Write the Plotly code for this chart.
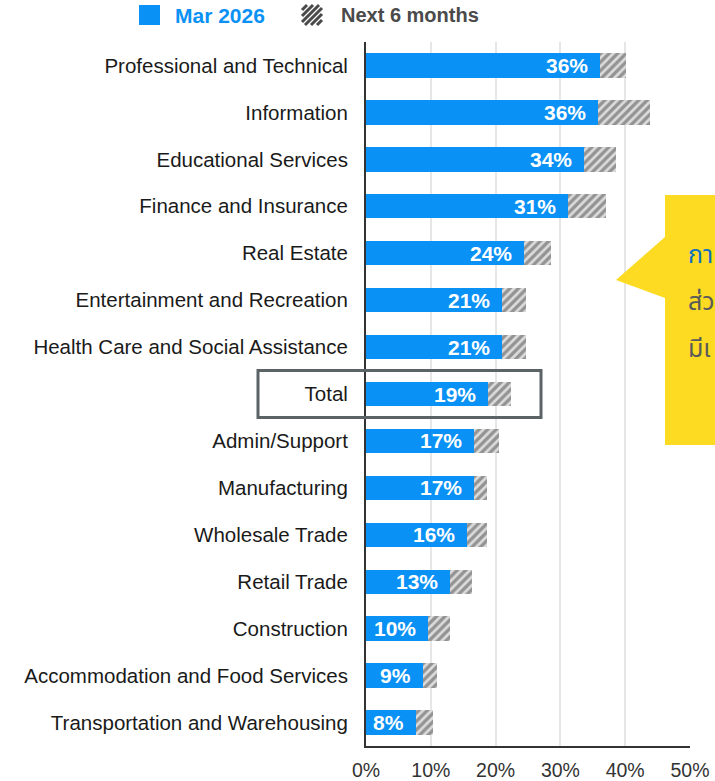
import plotly.graph_objects as go

# AI use rate by industry (share of firms)
industries = [
    "Professional and Technical", "Information", "Educational Services",
    "Finance and Insurance", "Real Estate", "Entertainment and Recreation",
    "Health Care and Social Assistance", "Total", "Admin/Support",
    "Manufacturing", "Wholesale Trade", "Retail Trade", "Construction",
    "Accommodation and Food Services", "Transportation and Warehousing",
]
mar_2026 = [36.1, 35.8, 33.6, 31.1, 24.4, 21.0, 21.0, 18.8, 16.7, 16.7, 15.6, 13.0, 9.6, 8.8, 7.7]
next_6m = [4.0, 8.0, 5.0, 5.9, 4.1, 3.7, 3.7, 3.6, 3.8, 2.0, 3.1, 3.4, 3.3, 2.2, 2.7]
bar_labels = ["36%", "36%", "34%", "31%", "24%", "21%", "21%", "19%",
              "17%", "17%", "16%", "13%", "10%", "9%", "8%"]
x_ticks = [0, 10, 20, 30, 40, 50]
x_tick_text = ["0%", "10%", "20%", "30%", "40%", "50%"]
# callout is cropped by the right edge in the source picture
callout_lines = ["กา", "ส่ว", "มีเ"]

BLUE = "#0a91f5"
YELLOW = "#fddb22"
HATCH = "#4a4a4a"
FONT = "Liberation Sans, Arial, sans-serif"

# page geometry (pixels) -> paper coords
W, H = 715, 781
L, R, T, B = 366, 690, 42, 746


def px(x):
    return (x - L) / (R - L)


def py(y):
    return (B - y) / (B - T)


fig = go.Figure()
fig.add_trace(go.Bar(
    y=industries, x=mar_2026, orientation="h", name="Mar 2026",
    marker=dict(color=BLUE, line=dict(width=0)), showlegend=False,
))
fig.add_trace(go.Bar(
    y=industries, x=next_6m, orientation="h", name="Next 6 months",
    marker=dict(color="#dcdcdc", line=dict(width=0),
                pattern=dict(shape="/", fgcolor=HATCH, bgcolor="#dcdcdc",
                             size=6, solidity=0.55)),
    showlegend=False,
))

annotations = []
for cat, val, lab in zip(industries, mar_2026, bar_labels):
    annotations.append(dict(
        x=val, y=cat, xref="x", yref="y", text=f"<b>{lab}</b>", showarrow=False,
        xanchor="right", yanchor="middle", xshift=-10,
        font=dict(family=FONT, size=21, color="white"),
    ))

# legend drawn by hand
annotations.append(dict(
    x=px(173), y=py(15), xref="paper", yref="paper", text="<b>Mar 2026</b>",
    showarrow=False, xanchor="left", yanchor="middle",
    font=dict(family=FONT, size=21, color=BLUE),
))
annotations.append(dict(
    x=px(339), y=py(15), xref="paper", yref="paper", text="<b>Next 6 months</b>",
    showarrow=False, xanchor="left", yanchor="middle",
    font=dict(family=FONT, size=20, color="#4a4a4a"),
))

# callout text
for i, (line, col) in enumerate(zip(callout_lines, ["#0a6fc4", "#5a5a5a", "#5a5a5a"])):
    annotations.append(dict(
        x=px(686), y=py(255 + i * 47), xref="paper", yref="paper", text=line,
        showarrow=False, xanchor="left", yanchor="middle",
        font=dict(family="Noto Sans Thai, Noto Sans, sans-serif", size=25, color=col),
    ))

shapes = []
# legend swatches
shapes.append(dict(type="rect", xref="paper", yref="paper",
                   x0=px(139), x1=px(160), y0=py(25), y1=py(5),
                   fillcolor=BLUE, line=dict(width=0)))
s = 20
for c in range(-15, 16, 6):
    xa, ya = max(0, c), max(0, -c)
    xb, yb = min(s, s + c), min(s, s - c)
    shapes.append(dict(type="line", xref="paper", yref="paper",
                       x0=px(302 + xa), y0=py(25 - ya), x1=px(302 + xb), y1=py(25 - yb),
                       line=dict(color=HATCH, width=3)))

# box around Total
shapes.append(dict(type="rect", xref="paper", yref="y",
                   x0=px(258), x1=px(541), y0=6.5, y1=7.5,
                   line=dict(color="#5c6366", width=3), fillcolor="rgba(0,0,0,0)"))

# yellow callout
pts = [(665, 195), (730, 195), (730, 445), (665, 445), (665, 298), (616, 280), (665, 237)]
path = "M " + " L ".join(f"{px(x):.4f},{py(y):.4f}" for x, y in pts) + " Z"
shapes.append(dict(type="path", xref="paper", yref="paper", path=path,
                   fillcolor=YELLOW, line=dict(width=0), layer="above"))

fig.update_layout(
    width=W, height=H,
    margin=dict(l=L, r=W - R, t=T, b=H - B),
    barmode="stack", bargap=0.48,
    plot_bgcolor="white", paper_bgcolor="white",
    font=dict(family=FONT, size=20, color="#222222"),
    annotations=annotations, shapes=shapes,
    showlegend=False,
)
fig.update_xaxes(
    range=[0, 50], tickvals=x_ticks, ticktext=x_tick_text,
    showgrid=True, gridcolor="#e6e6e6", gridwidth=1.5,
    showline=True, linecolor="#333333", linewidth=2,
    ticks="", ticklabelstandoff=6, zeroline=False, automargin=False,
    tickfont=dict(family=FONT, size=19.5, color="#333333"),
)
fig.update_yaxes(
    categoryorder="array", categoryarray=industries,
    range=[len(industries) - 0.5, -0.5],
    showline=True, linecolor="#333333", linewidth=2,
    ticks="", ticklabelstandoff=12, showgrid=False, automargin=False,
    tickfont=dict(family=FONT, size=20.5, color="#1a1a1a"),
)

fig.write_html("out.html", config={"displayModeBar": False},
               post_script="document.body.style.margin='0px';")
